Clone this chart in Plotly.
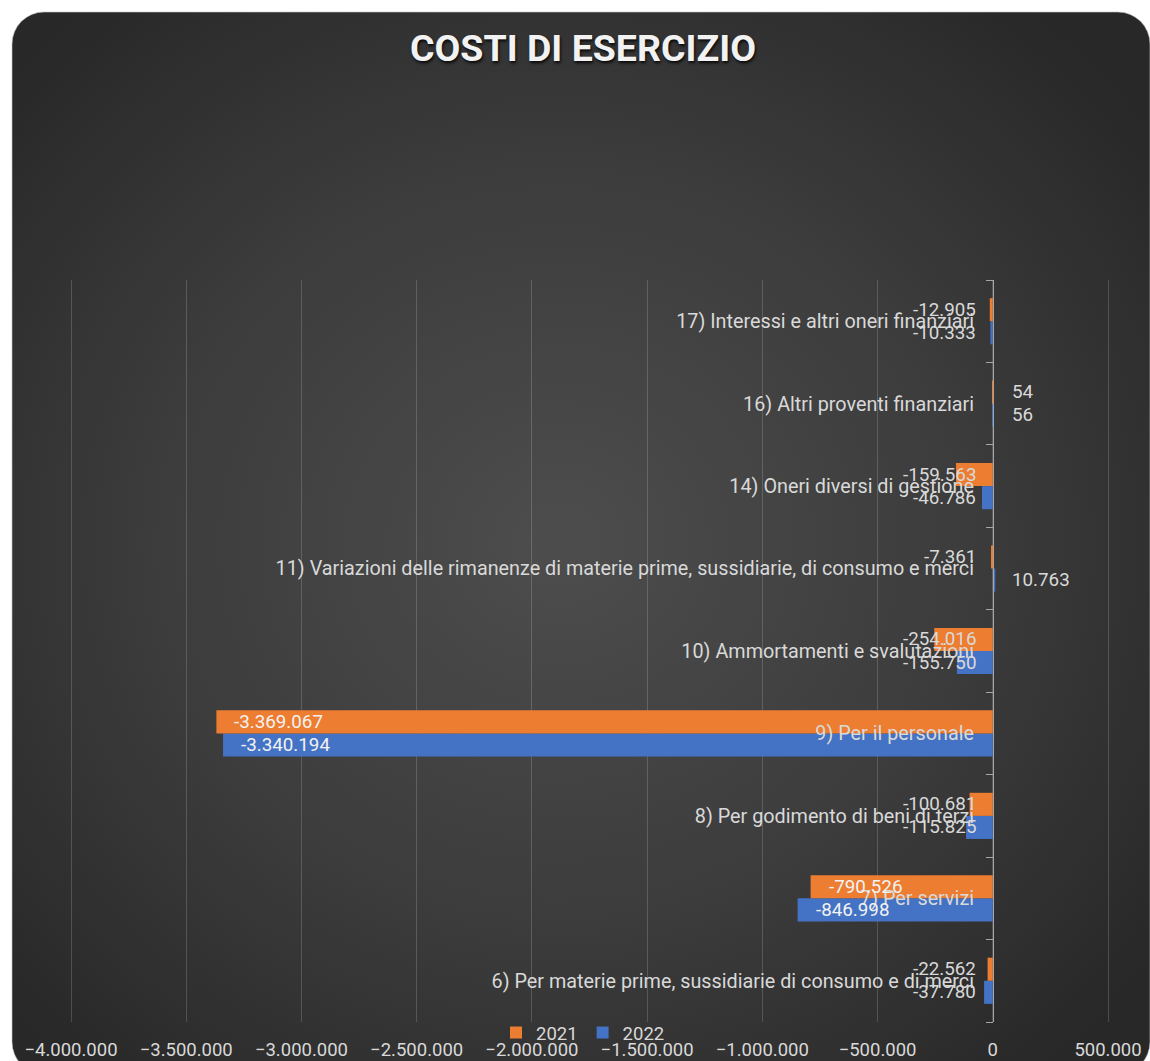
import base64
import plotly.graph_objects as go

# ---------------- data ----------------
categories = [
    "6) Per materie prime, sussidiarie di consumo e di merci",
    "7) Per servizi",
    "8) Per godimento di beni di terzi",
    "9) Per il personale",
    "10) Ammortamenti e svalutazioni",
    "11) Variazioni delle rimanenze di materie prime, sussidiarie, di consumo e merci",
    "14) Oneri diversi di gestione",
    "16) Altri proventi finanziari",
    "17) Interessi e altri oneri finanziari",
]
values_2021 = [-22562, -790526, -100681, -3369067, -254016, -7361, -159563, 54, -12905]
values_2022 = [-37780, -846998, -115825, -3340194, -155750, 10763, -46786, 56, -10333]
series_names = ["2021", "2022"]
x_tickvals = [-4000000, -3500000, -3000000, -2500000, -2000000, -1500000, -1000000, -500000, 0, 500000]

# ---------------- styling ----------------
W, H = 1150, 1061
FONT = "Roboto, 'Open Sans', sans-serif"
ORANGE = "#ED7D31"
BLUE = "#4472C4"
LABEL_COL = "#d9d9d9"

px_left, px_right = 71, 1108
px_top, px_bottom = 280, 1022
px_zero = 993
x_min, x_max = -4000000, 500000
upp = (x_max - x_min) / (px_right - px_left)  # units per pixel
pad_px = 3  # widen range a little so edge gridlines are kept


def fmt(v):
    return f"{v:,}".replace(",", ".")


svg = f'''<svg xmlns="http://www.w3.org/2000/svg" width="{W}" height="{H}" viewBox="0 0 {W} {H}">
<defs><radialGradient id="g" cx="0.48" cy="0.5" r="0.65">
<stop offset="0" stop-color="#4d4d4d"/><stop offset="0.55" stop-color="#3c3c3c"/><stop offset="1" stop-color="#282828"/></radialGradient></defs>
<rect x="12" y="12" width="1138" height="1062" rx="32" ry="32" fill="url(#g)" stroke="#c8c8c8" stroke-width="0.6"/>
</svg>'''
bg_uri = "data:image/svg+xml;base64," + base64.b64encode(svg.encode()).decode()

fig = go.Figure()
# 2022 first so that 2021 sits on top within each group
fig.add_trace(go.Bar(
    y=categories, x=values_2022, name=series_names[1], orientation="h",
    marker=dict(color=BLUE, line=dict(width=0)), hoverinfo="x+name",
))
fig.add_trace(go.Bar(
    y=categories, x=values_2021, name=series_names[0], orientation="h",
    marker=dict(color=ORANGE, line=dict(width=0)), hoverinfo="x+name",
))

band = (px_bottom - px_top) / len(categories)
bargap = 0.44
shift = band * (1 - bargap) / 4

annotations = []
for vals, ysh in ((values_2021, shift), (values_2022, -shift)):
    for cat, v in zip(categories, vals):
        if abs(v) >= 400000:
            a = dict(x=v, xanchor="left", xshift=16, font=dict(color="#f2f2f2"))
        elif v < 0:
            a = dict(x=0, xanchor="right", xshift=-15, font=dict(color=LABEL_COL))
        else:
            a = dict(x=0, xanchor="left", xshift=17, font=dict(color=LABEL_COL))
        a.update(y=cat, yshift=ysh, yanchor="middle", text=fmt(v), showarrow=False,
                 xref="x", yref="y")
        a["font"].update(family=FONT, size=18.8)
        annotations.append(a)

fig.update_layout(
    template="none",
    width=W, height=H,
    margin=dict(l=0, r=0, t=0, b=0),
    paper_bgcolor="white",
    plot_bgcolor="rgba(0,0,0,0)",
    separators=",.",
    font=dict(family=FONT, color=LABEL_COL, size=18.5),
    barmode="group",
    bargap=bargap,
    bargroupgap=0,
    title=dict(
        text="<b>COSTI DI ESERCIZIO</b>",
        x=583 / W, xanchor="center", xref="paper",
        y=1 - 48 / H, yanchor="middle", yref="paper",
        font=dict(family=FONT, size=37.5, color="#f2f2f2",
                  shadow="1px 2px 3px rgba(0,0,0,0.85)"),
    ),
    xaxis=dict(
        domain=[(px_left - pad_px) / W, (px_right + pad_px) / W],
        range=[x_min - pad_px * upp, x_max + pad_px * upp],
        tickvals=x_tickvals,
        tickformat=",",
        showgrid=True,
        gridcolor="rgba(255,255,255,0.17)",
        gridwidth=1,
        zeroline=False,
        showline=False,
        ticks="",
        tickfont=dict(family=FONT, size=18.5, color=LABEL_COL),
        ticklabelstandoff=14,
        automargin=False,
        fixedrange=True,
    ),
    yaxis=dict(
        domain=[1 - px_bottom / H, 1 - px_top / H],
        type="category",
        categoryorder="array",
        categoryarray=categories,
        anchor="free",
        position=px_zero / W,
        showline=True,
        linecolor="#a6a6a6",
        linewidth=1,
        ticks="outside",
        tickson="boundaries",
        ticklen=7,
        tickcolor="#a6a6a6",
        showgrid=False,
        zeroline=False,
        tickfont=dict(family=FONT, size=19.8, color=LABEL_COL),
        ticklabelstandoff=15,
        automargin=False,
        fixedrange=True,
        layer="above traces",
    ),
    legend=dict(
        orientation="h",
        x=583 / W, xanchor="center",
        y=1 - 1033 / H, yanchor="middle",
        traceorder="reversed",
        bgcolor="rgba(0,0,0,0)",
        font=dict(family=FONT, size=18.5, color=LABEL_COL),
        itemwidth=30,
        tracegroupgap=0,
    ),
    images=[dict(source=bg_uri, xref="paper", yref="paper", x=0, y=1,
                 sizex=1, sizey=1, sizing="stretch", xanchor="left",
                 yanchor="top", layer="below")],
    annotations=annotations,
    showlegend=True,
)

fig.write_html("out.html", config={"displayModeBar": False})

# remove the browser's default page margin so the figure fills the window exactly
with open("out.html", "r", encoding="utf-8") as f:
    html = f.read()
html = html.replace("<head>", "<head><style>html,body{margin:0;padding:0;overflow:hidden;}</style>", 1)
with open("out.html", "w", encoding="utf-8") as f:
    f.write(html)
